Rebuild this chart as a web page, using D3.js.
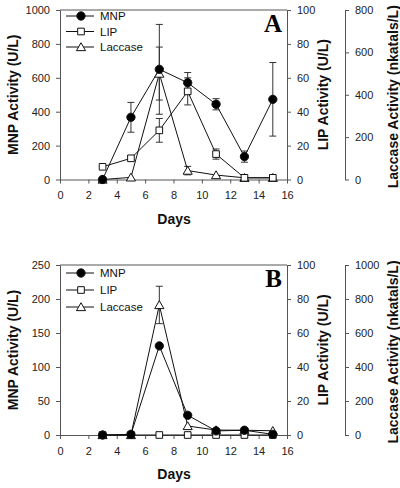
<!DOCTYPE html>
<html><head><meta charset="utf-8">
<script src="https://cdn.jsdelivr.net/npm/d3@7"></script>
<style>
body{margin:0;background:#fff;}
svg{display:block;}
.tick text{font-family:"Liberation Sans",Arial,sans-serif;font-size:11px;fill:#222;}
.axis path,.axis line{stroke:#555;stroke-width:1;}
</style></head>
<body><div id="chart"></div>
<script>
// ---- data ----
const days = [3, 5, 7, 9, 11, 13, 15];
const xTicks = [0, 2, 4, 6, 8, 10, 12, 14, 16];
const seriesNames = ["MNP", "LIP", "Laccase"];

// Panel A
const mnpA = [0, 367, 650, 571, 444, 135, 473];
const mnpErrA = [0, 88, 265, 60, 33, 33, 217];
const lipA = [7.5, 12.5, 29, 52, 15, 1, 1];
const lipErrA = [0, 0, 7, 8, 3, 0, 0];
const laccA = [0, 10, 500, 42, 21, 8, 8];
const laccErrA = [0, 0, 125, 20, 0, 0, 0];
const mnpTicksA = [0, 200, 400, 600, 800, 1000];
const lipTicksA = [0, 20, 40, 60, 80, 100];
const laccTicksA = [0, 200, 400, 600, 800];

// Panel B
const mnpB = [0, 1, 131, 29, 6, 7, 1];
const mnpErrB = [0, 0, 0, 0, 0, 0, 0];
const lipB = [0, 0, 0, 0, 0, 0, 0];
const lipErrB = [0, 0, 0, 0, 0, 0, 0];
const laccB = [0, 0, 765, 53, 29, 28, 25];
const laccErrB = [0, 0, 110, 0, 0, 0, 0];
const mnpTicksB = [0, 50, 100, 150, 200, 250];
const lipTicksB = [0, 20, 40, 60, 80, 100];
const laccTicksB = [0, 200, 400, 600, 800, 1000];

const FONT = '"Liberation Sans",Arial,sans-serif';
const svg = d3.select("#chart").append("svg").attr("width", 400).attr("height", 488);

function panel(cfg) {
  const x = d3.scaleLinear().domain([0, 16]).range([60, 287]);
  const yM = d3.scaleLinear().domain([0, cfg.mnpMax]).range([cfg.bottom, cfg.top]);
  const yL = d3.scaleLinear().domain([0, 100]).range([cfg.bottom, cfg.top]);
  const yC = d3.scaleLinear().domain([0, cfg.laccMax]).range([cfg.bottom, cfg.top]);
  const g = svg.append("g");

  // axes
  g.append("g").attr("class", "axis").attr("transform", `translate(0,${cfg.bottom})`)
    .call(d3.axisBottom(x).tickValues(xTicks).tickFormat(d3.format("d")).tickSize(4).tickSizeOuter(0).tickPadding(8));
  g.append("g").attr("class", "axis").attr("transform", `translate(60,0)`)
    .call(d3.axisLeft(yM).tickValues(cfg.mnpTicks).tickFormat(d3.format("d")).tickSize(4).tickSizeOuter(0).tickPadding(6));
  g.append("g").attr("class", "axis").attr("transform", `translate(287,0)`)
    .call(d3.axisRight(yL).tickValues(cfg.lipTicks).tickFormat(d3.format("d")).tickSize(4).tickSizeOuter(0).tickPadding(6));
  g.append("g").attr("class", "axis").attr("transform", `translate(345,0)`)
    .call(d3.axisRight(yC).tickValues(cfg.laccTicks).tickFormat(d3.format("d")).tickSize(4).tickSizeOuter(0).tickPadding(6));
  g.append("line").attr("x1", 60).attr("x2", 287).attr("y1", cfg.top).attr("y2", cfg.top)
    .attr("stroke", "#555");

  // titles
  const title = (txt, cx, cy) => g.append("text")
    .attr("transform", `translate(${cx},${cy}) rotate(-90)`).attr("dy", "0.35em")
    .attr("text-anchor", "middle").attr("font-family", FONT).attr("font-weight", "bold")
    .attr("font-size", 14).attr("fill", "#111").text(txt);
  const mid = (cfg.top + cfg.bottom) / 2;
  title("MNP Activity (U/L)", 13, mid);
  title("LIP Activity (U/L)", 323, mid);
  title("Laccase Activity (nkatals/L)", 393, mid + 2);
  g.append("text").attr("x", 174).attr("y", cfg.bottom + 44).attr("text-anchor", "middle")
    .attr("font-family", FONT).attr("font-weight", "bold").attr("font-size", 14).attr("fill", "#111").text("Days");
  g.append("text").attr("x", 282).attr("y", cfg.top + 22).attr("text-anchor", "end")
    .attr("font-family", '"Liberation Serif","Times New Roman",serif').attr("font-weight", "bold")
    .attr("font-size", 25).attr("fill", "#000").text(cfg.letter);

  const series = [
    {name: "Laccase", vals: cfg.lacc, errs: cfg.laccErr, y: yC, sym: d3.symbolTriangle, size: 36, fill: "#fff"},
    {name: "LIP", vals: cfg.lip, errs: cfg.lipErr, y: yL, sym: d3.symbolSquare, size: 44, fill: "#fff"},
    {name: "MNP", vals: cfg.mnp, errs: cfg.mnpErr, y: yM, sym: d3.symbolCircle, size: 54, fill: "#000"}
  ];
  // error bars
  series.forEach(s => {
    const d = days.map((dd, i) => ({d: dd, v: s.vals[i], e: s.errs[i]})).filter(o => o.e > 0);
    const eg = g.append("g").attr("stroke", "#333").attr("stroke-width", 1);
    d.forEach(o => {
      const xx = x(o.d), y1 = s.y(o.v - o.e), y2 = s.y(o.v + o.e);
      eg.append("line").attr("x1", xx).attr("x2", xx).attr("y1", y1).attr("y2", y2);
      eg.append("line").attr("x1", xx - 3.5).attr("x2", xx + 3.5).attr("y1", y1).attr("y2", y1);
      eg.append("line").attr("x1", xx - 3.5).attr("x2", xx + 3.5).attr("y1", y2).attr("y2", y2);
    });
  });
  // lines
  series.forEach(s => {
    const line = d3.line().x((v, i) => x(days[i])).y(v => s.y(v));
    g.append("path").attr("d", line(s.vals)).attr("fill", "none").attr("stroke", "#111").attr("stroke-width", 1);
  });
  // markers
  series.forEach(s => {
    const sym = d3.symbol().type(s.sym).size(s.size);
    g.append("g").selectAll("path").data(s.vals).join("path")
      .attr("d", sym).attr("transform", (v, i) => `translate(${x(days[i])},${s.y(v) + (s.sym === d3.symbolTriangle ? 1 : 0)})`)
      .attr("fill", s.fill).attr("stroke", "#111").attr("stroke-width", 1);
  });

  // legend
  const legY = cfg.legendY;
  const legendItems = [
    {name: seriesNames[0], s: series[2]},
    {name: seriesNames[1], s: series[1]},
    {name: seriesNames[2], s: series[0]}
  ];
  legendItems.forEach((it, i) => {
    const yy = legY + i * cfg.legendGap;
    g.append("line").attr("x1", 66).attr("x2", 94).attr("y1", yy).attr("y2", yy).attr("stroke", "#111");
    g.append("path").attr("d", d3.symbol().type(it.s.sym).size(it.s.size)())
      .attr("transform", `translate(81,${yy + (it.s.sym === d3.symbolTriangle ? 1 : 0)})`)
      .attr("fill", it.s.fill).attr("stroke", "#111");
    g.append("text").attr("x", 100).attr("y", yy).attr("dy", "0.35em").attr("font-family", FONT)
      .attr("font-size", 11.5).attr("fill", "#111").text(it.name);
  });
}

panel({top: 10, bottom: 179.5, mnpMax: 1000, laccMax: 800, mnpTicks: mnpTicksA, lipTicks: lipTicksA, laccTicks: laccTicksA,
  mnp: mnpA, mnpErr: mnpErrA, lip: lipA, lipErr: lipErrA, lacc: laccA, laccErr: laccErrA, letter: "A", legendY: 16, legendGap: 15.5});
panel({top: 265, bottom: 435, mnpMax: 250, laccMax: 1000, mnpTicks: mnpTicksB, lipTicks: lipTicksB, laccTicks: laccTicksB,
  mnp: mnpB, mnpErr: mnpErrB, lip: lipB, lipErr: lipErrB, lacc: laccB, laccErr: laccErrB, letter: "B", legendY: 273, legendGap: 17});
</script>
</body></html>
